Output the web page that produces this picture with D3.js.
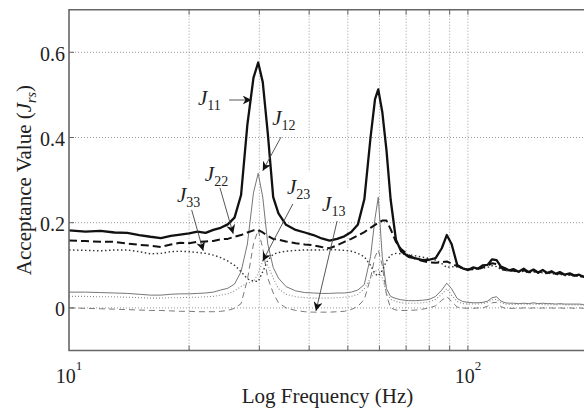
<!DOCTYPE html>
<html>
<head>
<meta charset="utf-8">
<script src="https://cdn.jsdelivr.net/npm/d3@7"></script>
<style>
  body { margin: 0; background: #fff; }
</style>
</head>
<body>
<svg id="chart" width="584" height="409"></svg>
<script>
// frequency samples (Hz), shared by all six curves
const freq = [10, 11, 12, 13, 14, 15, 16, 17, 18, 19, 20, 21, 22, 23, 24, 25, 26, 27, 28, 29,
  29.8, 30.6, 31.5, 32.5, 33.5,
  35, 37, 39, 41, 43, 45, 47, 49, 51, 53, 55, 57,
  58.5, 59.6, 61, 62.5, 64,
  66, 68, 71, 74, 77, 80, 83, 86,
  88.5, 91, 94, 97,
  100, 103, 106, 109, 112, 115, 118, 121, 124, 127, 130,
  134, 138, 142, 146, 150, 154, 158, 162, 166, 170,
  175, 180, 185, 190, 195, 200];

const j11 = [0.182, 0.179, 0.181, 0.177, 0.176, 0.171, 0.167, 0.164, 0.169, 0.172, 0.175, 0.179, 0.176, 0.183, 0.188, 0.196, 0.212, 0.265, 0.43, 0.54,
  0.576, 0.53, 0.41, 0.26, 0.222,
  0.195, 0.183, 0.177, 0.171, 0.163, 0.158, 0.162, 0.168, 0.178, 0.196, 0.255, 0.40,
  0.49, 0.513, 0.46, 0.37, 0.255,
  0.16, 0.133, 0.12, 0.116, 0.112, 0.113, 0.117, 0.14,
  0.171, 0.15, 0.101, 0.093,
  0.089, 0.095, 0.092, 0.1, 0.101, 0.114, 0.112, 0.097, 0.093, 0.088, 0.091,
  0.085, 0.092, 0.084, 0.09, 0.083, 0.089, 0.082, 0.086, 0.08, 0.084,
  0.078, 0.081, 0.076, 0.078, 0.073, 0.074];

const j22 = [0.158, 0.157, 0.155, 0.155, 0.151, 0.148, 0.146, 0.143, 0.149, 0.153, 0.152, 0.155, 0.156, 0.157, 0.161, 0.162, 0.167, 0.171, 0.177, 0.182,
  0.183, 0.177, 0.169, 0.162, 0.160,
  0.156, 0.152, 0.149, 0.147, 0.143, 0.14, 0.147, 0.155, 0.162, 0.17, 0.178, 0.188,
  0.195, 0.2, 0.205, 0.205, 0.185,
  0.155, 0.138, 0.124, 0.115, 0.11, 0.107, 0.106, 0.107,
  0.109, 0.104, 0.098, 0.093,
  0.09, 0.091, 0.092, 0.095, 0.099, 0.105, 0.103, 0.094, 0.089, 0.088, 0.087,
  0.086, 0.088, 0.084, 0.087, 0.083, 0.086, 0.082, 0.084, 0.08, 0.081,
  0.078, 0.079, 0.076, 0.076, 0.073, 0.072];

const j33 = [0.136, 0.135, 0.134, 0.136, 0.136, 0.132, 0.127, 0.128, 0.132, 0.133, 0.132, 0.13, 0.128, 0.124, 0.118, 0.11, 0.1, 0.085, 0.068, 0.063,
  0.062, 0.085, 0.112, 0.126, 0.13,
  0.133, 0.135, 0.136, 0.136, 0.136, 0.137, 0.136, 0.135, 0.133, 0.128, 0.12, 0.1,
  0.08, 0.075, 0.088, 0.11, 0.124,
  0.128, 0.127, 0.125, 0.122, 0.119, 0.116, 0.112, 0.104,
  0.095, 0.097, 0.096, 0.093,
  0.091, 0.092, 0.091, 0.093, 0.095, 0.099, 0.097, 0.09, 0.087, 0.087, 0.086,
  0.084, 0.086, 0.082, 0.085, 0.081, 0.083, 0.08, 0.082, 0.078, 0.079,
  0.076, 0.077, 0.074, 0.074, 0.071, 0.07];

const j12 = [0.037, 0.037, 0.036, 0.035, 0.034, 0.032, 0.03, 0.03, 0.032, 0.033, 0.033, 0.034, 0.035, 0.037, 0.042, 0.046, 0.056, 0.085, 0.15, 0.27,
  0.316, 0.26, 0.15, 0.095, 0.07,
  0.05, 0.04, 0.036, 0.035, 0.034, 0.034, 0.035, 0.035, 0.037, 0.042, 0.055, 0.12,
  0.21, 0.26, 0.12, 0.045, 0.027,
  0.022, 0.019, 0.017, 0.017, 0.018, 0.02, 0.027, 0.042,
  0.058, 0.045, 0.022, 0.015,
  0.013, 0.012, 0.012, 0.013, 0.016, 0.024, 0.026, 0.016, 0.012, 0.011, 0.011,
  0.01, 0.011, 0.01, 0.012, 0.01, 0.011, 0.01, 0.01, 0.009, 0.01,
  0.009, 0.009, 0.009, 0.009, 0.008, 0.008];

const j13 = [0.0, -0.001, -0.002, -0.003, -0.004, -0.005, -0.006, -0.006, -0.007, -0.008, -0.008, -0.009, -0.009, -0.009, -0.008, -0.006, -0.001, 0.01, 0.066, 0.15,
  0.183, 0.14, 0.07, 0.035, 0.012,
  0.0, -0.006, -0.009, -0.01, -0.01, -0.01, -0.009, -0.008, -0.004, 0.004, 0.02, 0.07,
  0.12, 0.136, 0.1, 0.03, 0.0,
  -0.005, -0.006, -0.006, -0.005, -0.003, 0.0, 0.005, 0.018,
  0.027, 0.015, 0.002, 0.0,
  -0.001, -0.001, 0.0, 0.0, 0.004, 0.012, 0.013, 0.003, -0.001, -0.001, -0.001,
  -0.001, 0.0, -0.001, 0.0, -0.001, 0.0, -0.001, 0.0, -0.001, 0.0,
  -0.001, 0.0, -0.001, 0.0, -0.001, -0.001];

const j23 = [0.027, 0.027, 0.026, 0.026, 0.025, 0.024, 0.023, 0.023, 0.024, 0.024, 0.025, 0.025, 0.026, 0.027, 0.03, 0.033, 0.04, 0.05, 0.058, 0.062,
  0.08, 0.11, 0.1, 0.07, 0.045,
  0.032, 0.026, 0.024, 0.023, 0.023, 0.023, 0.024, 0.025, 0.027, 0.032, 0.045, 0.07,
  0.085, 0.09, 0.07, 0.035, 0.02,
  0.015, 0.012, 0.011, 0.011, 0.012, 0.014, 0.02, 0.032,
  0.045, 0.03, 0.015, 0.01,
  0.009, 0.009, 0.009, 0.01, 0.013, 0.019, 0.02, 0.012, 0.009, 0.008, 0.008,
  0.008, 0.009, 0.008, 0.009, 0.008, 0.008, 0.007, 0.008, 0.007, 0.008,
  0.007, 0.007, 0.007, 0.007, 0.006, 0.006];

const yTicks = [0, 0.2, 0.4, 0.6];
const yTickLabels = ["0", "0.2", "0.4", "0.6"];
const xGrid = [20, 30, 40, 50, 60, 70, 80, 90, 100, 200];
const xTickValues = [10, 100];
const xTickExp = ["1", "2"];

// label sub, text anchor [f, v], arrow [f0, v0, f1, v1] in data units
const notes = [
  { sub: "11", at: [21.05, 0.477], arrow: [25.2, 0.488, 28.7, 0.488] },
  { sub: "12", at: [32.3, 0.430], arrow: [34.0, 0.401, 30.6, 0.322] },
  { sub: "22", at: [21.9, 0.298], arrow: [23.9, 0.282, 25.8, 0.174] },
  { sub: "33", at: [18.65, 0.249], arrow: [20.3, 0.230, 21.7, 0.134] },
  { sub: "23", at: [35.2, 0.268], arrow: [36.4, 0.244, 30.6, 0.110] },
  { sub: "13", at: [43.1, 0.228], arrow: [47.0, 0.204, 41.6, -0.007] }
];

const series = [
  { values: j13, stroke: "#7a7a7a", width: 1, dash: "6,4" },
  { values: j23, stroke: "#8a8a8a", width: 1.1, dash: "1,2" },
  { values: j12, stroke: "#777", width: 1, dash: null },
  { values: j33, stroke: "#333", width: 1.4, dash: "1.5,2.5" },
  { values: j22, stroke: "#111", width: 2, dash: "8,4" },
  { values: j11, stroke: "#111", width: 2.3, dash: null }
];

var serif = "'Liberation Serif', 'Times New Roman', Tinos, 'DejaVu Serif', serif";
var plotL = 69, plotR = 588, plotT = 9.7, plotB = 350.5;

var x = d3.scaleLog().domain([10, 200]).range([plotL, plotR]);
var y = d3.scaleLinear().domain([-0.1, 0.7]).range([plotB, plotT]);

var svg = d3.select("#chart")
  .attr("font-family", serif)
  .style("font-family", serif);

svg.append("defs").append("marker")
  .attr("id", "head")
  .attr("viewBox", "0 0 10 10")
  .attr("refX", 10).attr("refY", 5)
  .attr("markerWidth", 9).attr("markerHeight", 9)
  .attr("markerUnits", "userSpaceOnUse")
  .attr("orient", "auto")
  .append("path")
  .attr("d", "M0,0 L10,5 L0,10 L3,5 Z")
  .attr("fill", "#111");

// grid
var grid = svg.append("g").attr("class", "grid")
  .attr("stroke", "#9a9a9a").attr("stroke-width", 1).attr("stroke-dasharray", "1,2");

grid.selectAll("line.v").data(xGrid).enter().append("line")
  .attr("class", "v")
  .attr("x1", d => x(d)).attr("x2", d => x(d))
  .attr("y1", plotT).attr("y2", plotB);

grid.selectAll("line.h").data(yTicks).enter().append("line")
  .attr("class", "h")
  .attr("x1", plotL).attr("x2", plotR)
  .attr("y1", d => y(d)).attr("y2", d => y(d));

// white boxes under annotation labels
var boxG = svg.append("g");
var noteG = svg.append("g").attr("fill", "#222");
notes.forEach(function (n) {
  var t = noteG.append("text")
    .attr("x", x(n.at[0])).attr("y", y(n.at[1]))
    .style("font-family", serif)
    .style("font-size", "21px");
  t.append("tspan").text("J").style("font-style", "italic");
  t.append("tspan").text(n.sub).attr("dy", 5).style("font-size", "14px");
  var b = t.node().getBBox();
  boxG.append("rect")
    .attr("x", b.x - 5).attr("y", b.y - 3)
    .attr("width", b.width + 10).attr("height", b.height + 6)
    .attr("fill", "#fff");
});

// curves
var line = d3.line()
  .x((d, i) => x(freq[i]))
  .y(d => y(d));

var curveG = svg.insert("g", () => noteG.node());
curveG.selectAll("path").data(series).enter().append("path")
  .attr("d", d => line(d.values))
  .attr("fill", "none")
  .attr("stroke", d => d.stroke)
  .attr("stroke-width", d => d.width)
  .attr("stroke-dasharray", d => d.dash)
  .attr("stroke-linejoin", "round");

// arrows
curveG.append("g").selectAll("line").data(notes).enter().append("line")
  .attr("x1", d => x(d.arrow[0])).attr("y1", d => y(d.arrow[1]))
  .attr("x2", d => x(d.arrow[2])).attr("y2", d => y(d.arrow[3]))
  .attr("stroke", "#444").attr("stroke-width", 0.9)
  .attr("marker-end", "url(#head)");

// axes frame and inward ticks
var axis = svg.append("g").attr("stroke", "#666").attr("stroke-width", 1.6).attr("fill", "none");
axis.append("path").attr("d", `M${plotR},${plotT}H${plotL}V${plotB}H${plotR}`);

var ticks = svg.append("g").attr("stroke", "#666").attr("stroke-width", 1);
ticks.selectAll("line.b").data(xGrid).enter().append("line")
  .attr("class", "b")
  .attr("x1", d => x(d)).attr("x2", d => x(d))
  .attr("y1", plotB).attr("y2", plotB - 5);
ticks.selectAll("line.t").data(xGrid).enter().append("line")
  .attr("class", "t")
  .attr("x1", d => x(d)).attr("x2", d => x(d))
  .attr("y1", plotT).attr("y2", plotT + 5);
ticks.selectAll("line.l").data(yTicks).enter().append("line")
  .attr("class", "l")
  .attr("x1", plotL).attr("x2", plotL + 5)
  .attr("y1", d => y(d)).attr("y2", d => y(d));

// tick labels
var labelG = svg.append("g").attr("fill", "#222");

labelG.selectAll("text.y").data(yTicks).enter().append("text")
  .attr("class", "y")
  .attr("x", plotL - 4).attr("y", d => y(d) + 8.5)
  .attr("text-anchor", "end")
  .style("font-family", serif)
  .style("font-size", "20px")
  .text((d, i) => yTickLabels[i]);

labelG.selectAll("text.x").data(xTickValues).enter().append("text")
  .attr("class", "x")
  .attr("x", d => x(d)).attr("y", 383)
  .attr("text-anchor", "middle")
  .style("font-family", serif)
  .style("font-size", "20px")
  .each(function (d, i) {
    d3.select(this).append("tspan").text("10");
    d3.select(this).append("tspan").text(xTickExp[i]).attr("dy", -13).style("font-size", "13px");
  });

// axis titles
labelG.append("text")
  .attr("x", (plotL + plotR) / 2 - 1).attr("y", 403)
  .attr("text-anchor", "middle")
  .style("font-family", serif)
  .style("font-size", "21px")
  .text("Log Frequency (Hz)");

var yl = labelG.append("text")
  .attr("transform", `translate(31,${(plotT + plotB) / 2}) rotate(-90)`)
  .attr("text-anchor", "middle")
  .style("font-family", serif)
  .style("font-size", "21px");
yl.append("tspan").text("Acceptance Value (");
yl.append("tspan").text("J").style("font-style", "italic");
yl.append("tspan").text("rs").attr("dy", 5).style("font-style", "italic").style("font-size", "14px");
yl.append("tspan").text(")").attr("dy", -5);
</script>
</body>
</html>
